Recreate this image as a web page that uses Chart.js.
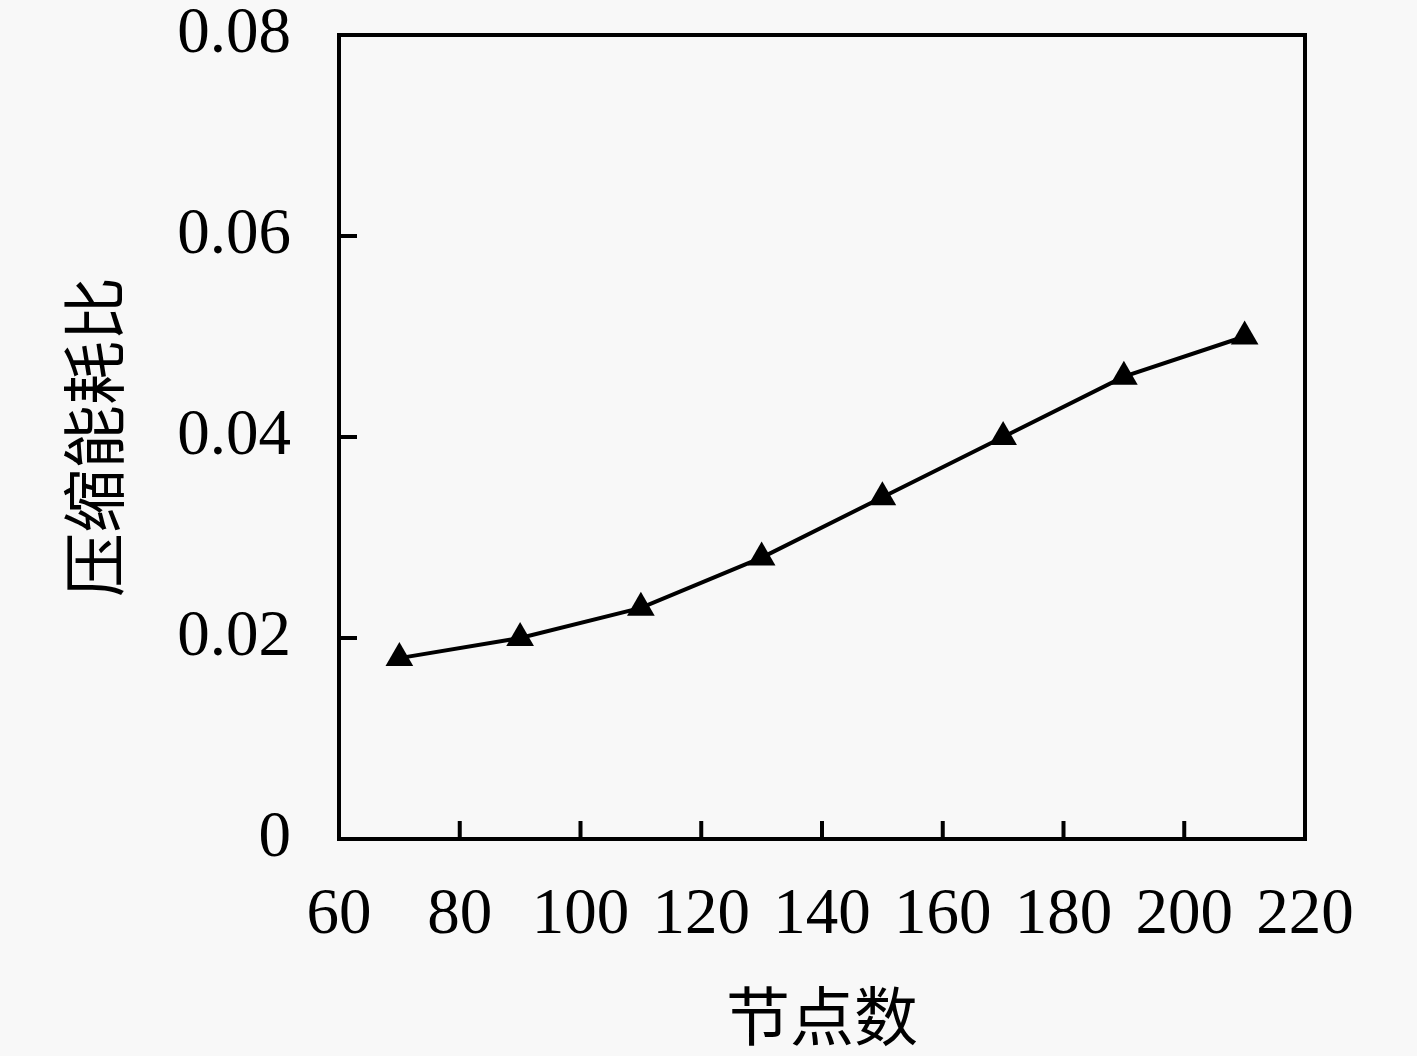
<!DOCTYPE html>
<html lang="zh">
<head>
    <meta charset="UTF-8">
    <title>压缩能耗比</title>
    <script src="https://cdn.jsdelivr.net/npm/chart.js"></script>
</head>
<body style="margin: 0; background-color: #f8f8f8; overflow: hidden;">
    <canvas id="chart" width="1417" height="1056" style="display: block;"></canvas>

    <script>
        // données
        const nodeCounts = [70, 90, 110, 130, 150, 170, 190, 210];
        const energyRatio = [0.018, 0.020, 0.023, 0.028, 0.034, 0.040, 0.046, 0.050];
        const xTickLabels = ['60', '80', '100', '120', '140', '160', '180', '200', '220'];
        const yTickLabels = ['0', '0.02', '0.04', '0.06', '0.08'];
        const xTitle = '节点数';
        const yTitle = '压缩能耗比';

        const tickFont = { family: '"Liberation Serif", "DejaVu Serif", serif', size: 65 };
        const titleFont = { family: '"Noto Sans CJK SC", sans-serif', size: 64 };

        // cadre + petites graduations vers l'intérieur
        const frameTicks = {
            id: 'frameTicks',
            afterDatasetsDraw(chart) {
                const ctx = chart.ctx;
                const a = chart.chartArea;
                const xs = chart.scales.x;
                const ys = chart.scales.y;
                ctx.save();
                ctx.strokeStyle = '#000';
                ctx.lineWidth = 4;
                ctx.strokeRect(a.left, a.top, a.right - a.left, a.bottom - a.top);
                ctx.beginPath();
                xs.ticks.forEach((t, i) => {
                    if (i === 0 || i === xs.ticks.length - 1) return;
                    const px = xs.getPixelForTick(i);
                    ctx.moveTo(px, a.bottom);
                    ctx.lineTo(px, a.bottom - 18);
                });
                ys.ticks.forEach((t, i) => {
                    if (i === 0 || i === ys.ticks.length - 1) return;
                    const py = ys.getPixelForTick(i);
                    ctx.moveTo(a.left, py);
                    ctx.lineTo(a.left + 18, py);
                });
                ctx.stroke();
                ctx.restore();
            }
        };

        const ctx = document.getElementById('chart').getContext('2d');
        new Chart(ctx, {
            type: 'line',
            data: {
                datasets: [{
                    data: nodeCounts.map((x, i) => ({ x: x, y: energyRatio[i] })),
                    borderColor: '#000',
                    borderWidth: 4,
                    backgroundColor: '#000',
                    pointStyle: 'triangle',
                    pointRadius: 16,
                    pointBorderWidth: 0,
                    tension: 0,
                    fill: false
                }]
            },
            options: {
                responsive: false,
                animation: false,
                layout: { padding: { top: 35, right: 112, left: 0, bottom: 0 } },
                plugins: { legend: { display: false }, tooltip: { enabled: false } },
                scales: {
                    x: {
                        type: 'linear',
                        min: 60,
                        max: 220,
                        grid: { display: false },
                        border: { display: true, color: '#000', width: 4 },
                        ticks: {
                            stepSize: 20,
                            color: '#000',
                            font: tickFont,
                            padding: 30,
                            maxRotation: 0,
                            callback: (v, i) => xTickLabels[i]
                        },
                        title: { display: true, text: xTitle, color: '#000', font: titleFont, padding: { top: 0, bottom: 2 } },
                        afterFit: (s) => { s.height = 217; s.paddingLeft = 0; s.paddingRight = 0; }
                    },
                    y: {
                        min: 0,
                        max: 0.08,
                        grid: { display: false },
                        border: { display: true, color: '#000', width: 4 },
                        ticks: {
                            stepSize: 0.02,
                            color: '#000',
                            font: tickFont,
                            padding: 40,
                            callback: (v, i) => yTickLabels[i]
                        },
                        title: { display: true, text: yTitle, color: '#000', font: titleFont, padding: { top: 55, bottom: 0 } },
                        afterFit: (s) => { s.width = 339; s.paddingTop = 0; s.paddingBottom = 0; }
                    }
                }
            },
            plugins: [frameTicks]
        });
    </script>
</body>
</html>
